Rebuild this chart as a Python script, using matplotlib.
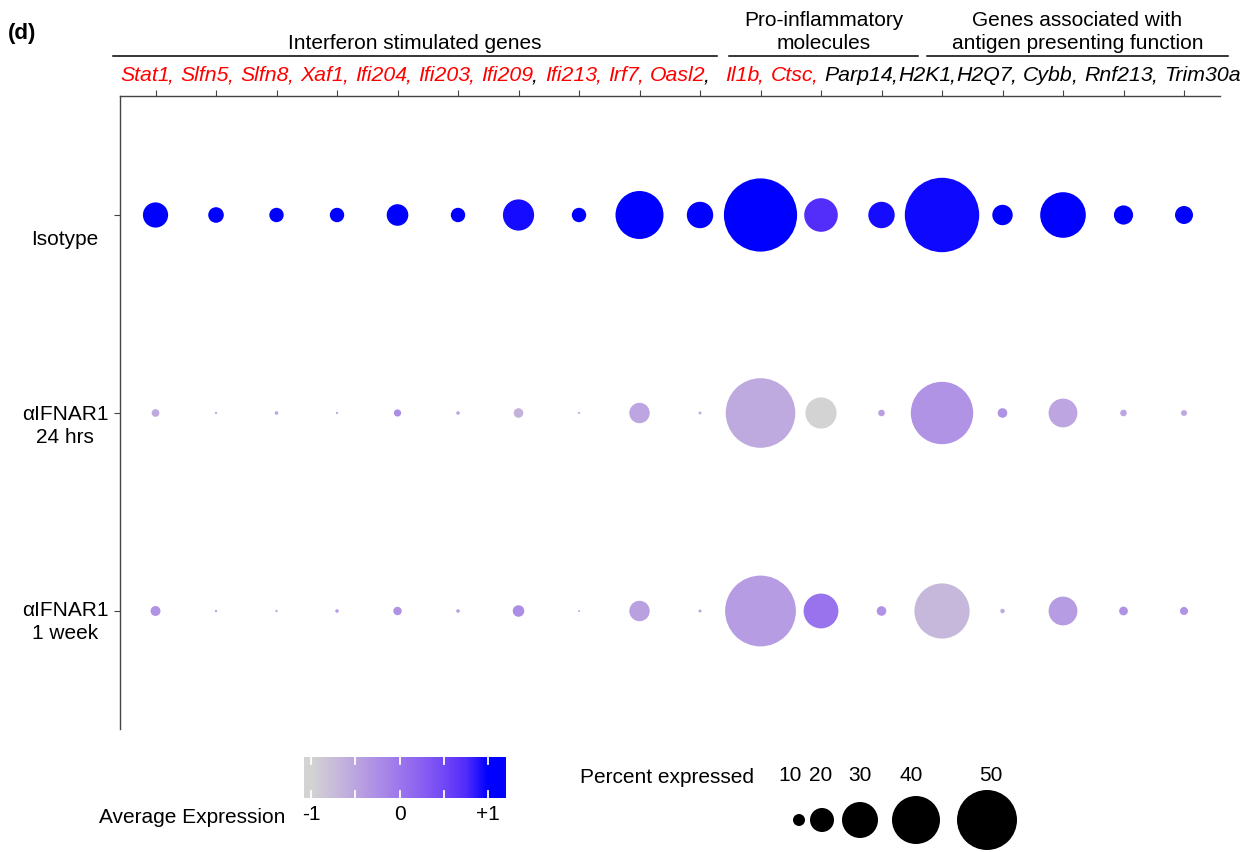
import numpy as np
import matplotlib
matplotlib.use('Agg')
import matplotlib.pyplot as plt
from matplotlib.colors import LinearSegmentedColormap, Normalize
from matplotlib.transforms import blended_transform_factory

plt.rcParams['font.family'] = ['Liberation Sans', 'DejaVu Sans']
plt.rcParams['font.size'] = 15

# genes along the top, in order
genes = ['Stat1', 'Slfn5', 'Slfn8', 'Xaf1', 'Ifi204', 'Ifi203', 'Ifi209', 'Ifi213', 'Irf7', 'Oasl2',
         'Il1b', 'Ctsc', 'Parp14', 'H2K1', 'H2Q7', 'Cybb', 'Rnf213', 'Trim30a']
name_colors = ['red'] * 12 + ['black'] * 6
comma_colors = ['red'] * 6 + ['black', 'red', 'red', 'black', 'red', 'red'] + ['black'] * 5 + [None]
comma_gap = [5.0] * 9 + [11] + [5.0, 5.0, 0.6, 0.6] + [5.0] * 4  # points after each comma

groups = ['Interferon stimulated genes', 'Pro-inflammatory\nmolecules',
          'Genes associated with\nantigen presenting function']

conditions = ['Isotype', '\u03b1IFNAR1\n24 hrs', '\u03b1IFNAR1\n1 week']

# percent expressed
pct_isotype = [21, 13, 12, 12, 18, 12, 26, 12, 40, 22, 61, 28, 22, 62, 17, 38, 16, 15]
pct_24h = [6.4, 2, 3, 2, 6, 3, 8, 2, 17, 2.5, 58, 26, 5.5, 52, 8, 24, 5.5, 5]
pct_1wk = [8.3, 2, 2, 3, 7, 3, 9.6, 1.7, 17, 2.5, 59, 29, 8, 46, 3.7, 24, 7.3, 6.7]

# average expression (scaled)
avg_isotype = [1, 1, 1, 1, 1, 1, 0.93, 1, 1, 1, 1, 0.74, 0.93, 0.95, 1, 1, 1, 1]
avg_24h = [-0.55, -0.6, -0.5, -0.6, -0.25, -0.5, -0.65, -0.7, -0.5, -0.6,
           -0.55, -1.0, -0.45, -0.3, -0.3, -0.5, -0.5, -0.55]
avg_1wk = [-0.3, -0.5, -0.55, -0.45, -0.3, -0.45, -0.25, -0.6, -0.45, -0.5,
           -0.4, 0.05, -0.3, -0.7, -0.55, -0.4, -0.3, -0.3]

pct = [pct_isotype, pct_24h, pct_1wk]
avg = [avg_isotype, avg_24h, avg_1wk]

cbar_ticks = [-1, -0.5, 0, 0.5, 1]
cbar_labels = ['-1', '0', '+1']
legend_pct = [10, 20, 30, 40, 50]

# lightgrey -> blue, interpolated in Lab like ggplot
cmap = LinearSegmentedColormap.from_list('lgblue', ['#D3D3D3', '#C8BCDA', '#BCA5E0', '#AD8EE6', '#9D77EC',
                                                    '#8A60F1', '#7248F6', '#522DFB', '#0000FF'])
norm = Normalize(-1, 1)


def size(p):
    return (0.864 * np.asarray(p, dtype=float)) ** 2


W, H = 1259, 853
fig = plt.figure(figsize=(W / 100, H / 100), dpi=100)

ov = fig.add_axes([0, 0, 1, 1])
ov.set_xlim(0, W)
ov.set_ylim(H, 0)
ov.axis('off')

ax = fig.add_axes([120 / W, 1 - 730 / H, 1100 / W, 633 / H])
x = np.arange(len(genes))
for r in range(3):
    ax.scatter(x, np.full(len(genes), r), s=size(pct[r]), c=avg[r], cmap=cmap, norm=norm,
               linewidths=0, zorder=3)
ax.set_xlim(-0.587, 17.595)
ax.set_ylim(2.596, -0.601)
ax.xaxis.tick_top()
ax.set_xticks(x)
ax.set_xticklabels([])
ax.set_yticks([0, 1, 2])
ax.set_yticklabels([])
ax.tick_params(axis='both', length=4, width=0.8, color='#444444')
for s in ['right', 'bottom']:
    ax.spines[s].set_visible(False)
for s in ['top', 'left']:
    ax.spines[s].set_color('#444444')
    ax.spines[s].set_linewidth(1)

# row labels
tr = blended_transform_factory(ov.transData, ax.transData)
label_dy = [0.12, 0.06, 0.05]
for r, c in enumerate(conditions):
    ov.text(65, r + label_dy[r], c, transform=tr, ha='center', va='center', linespacing=1.25)

# gene names written as one line with mixed colours
gfs = 15.3
prev = ov.text(120, 81, genes[0], color=name_colors[0], style='italic', va='baseline', fontsize=gfs)
for i in range(len(genes)):
    if i > 0:
        prev = ov.annotate(genes[i], xy=(1, 0), xycoords=prev, xytext=(comma_gap[i - 1], 0),
                           textcoords='offset points', ha='left', va='bottom',
                           color=name_colors[i], style='italic', fontsize=gfs)
    if comma_colors[i] is not None:
        prev = ov.annotate(',', xy=(1, 0), xycoords=prev, xytext=(-1.2, 0),
                           textcoords='offset points', ha='left', va='bottom',
                           color=comma_colors[i], style='italic', fontsize=gfs)

# group headers
group_x = [(113, 717), (729, 918), (927, 1228)]
for g, (x0, x1) in zip(groups, group_x):
    ov.plot([x0, x1], [57, 57], color='black', lw=1.1)
    ov.text((x0 + x1) / 2, 53, g, ha='center', va='bottom', linespacing=1.3)

ov.text(8, 33, '(d)', fontweight='bold', fontsize=16, va='center')

# colour bar
cax = fig.add_axes([304 / W, 1 - 799 / H, 202 / W, 41 / H])
grad = np.linspace(-1.08, 1.2, 300).reshape(1, -1)
cax.imshow(grad, aspect='auto', cmap=cmap, norm=norm, extent=[-1.08, 1.2, 0, 1])
for v in cbar_ticks:
    cax.plot([v, v], [0, 0.18], color='white', lw=1.3)
    cax.plot([v, v], [0.82, 1], color='white', lw=1.3)
cax.set_xlim(-1.08, 1.2)
cax.set_ylim(0, 1)
cax.axis('off')
ctr = blended_transform_factory(cax.transData, ov.transData)
for v, lab in zip([-1, 0, 1], cbar_labels):
    ov.text(v, 815, lab, transform=ctr, ha='center', va='center')
ov.text(285, 818, 'Average Expression', ha='right', va='center')

# size legend
ov.text(580, 778, 'Percent expressed', ha='left', va='center')
leg_x = [799, 822, 860, 916, 987]
leg_lab_x = [790, 821, 860, 911, 991]
ov.scatter(leg_x, [821] * 5, s=size(legend_pct), c='black', linewidths=0)
for lx, p in zip(leg_lab_x, legend_pct):
    ov.text(lx, 776, str(p), ha='center', va='center')

fig.savefig('out.png', dpi=100)
